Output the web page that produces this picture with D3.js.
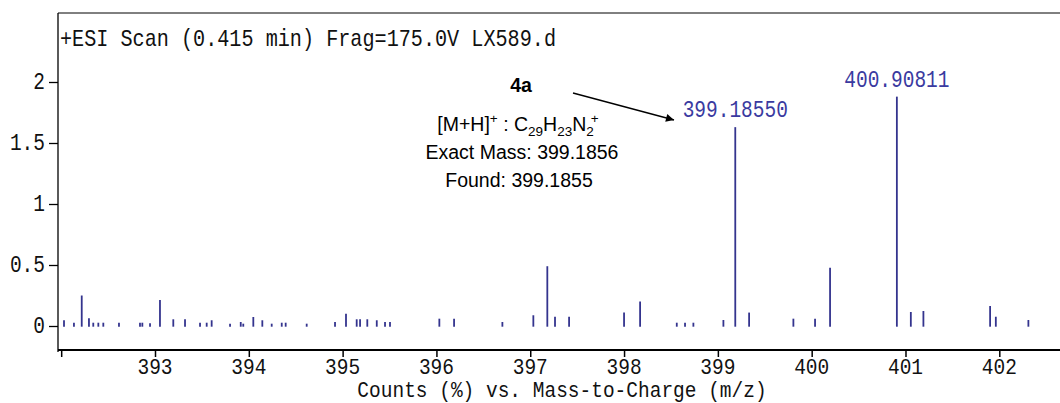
<!DOCTYPE html>
<html><head><meta charset="utf-8">
<script src="https://cdn.jsdelivr.net/npm/d3@7"></script>
<style>
html,body{margin:0;padding:0;background:#fff;}
svg{display:block;}
</style></head>
<body>
<svg id="chart" width="1060" height="403"></svg>
<script>
// ---- data ----
const mz = [392.030,392.136,392.219,392.296,392.342,392.396,392.449,392.616,392.840,392.865,392.947,
  393.053,393.195,393.320,393.480,393.551,393.604,393.800,393.914,393.941,
  394.048,394.144,394.244,394.351,394.393,394.617,394.919,
  395.036,395.150,395.186,395.263,395.364,395.452,395.505,
  396.031,396.188,396.703,
  397.033,397.182,397.264,397.414,
  398.000,398.171,398.562,398.650,398.739,
  399.059,399.1855,399.333,399.805,
  400.036,400.196,400.90811,
  401.057,401.191,401.902,401.963,402.310];
const counts = [0.047,0.027,0.25,0.063,0.027,0.027,0.027,0.027,0.027,0.027,0.022,
  0.213,0.055,0.055,0.027,0.027,0.047,0.019,0.033,0.019,
  0.074,0.047,0.019,0.027,0.027,0.019,0.033,
  0.10,0.055,0.055,0.055,0.047,0.033,0.033,
  0.06,0.06,0.033,
  0.088,0.49,0.076,0.076,
  0.11,0.20,0.027,0.027,0.027,
  0.049,1.63,0.11,0.06,
  0.06,0.478,1.88,
  0.115,0.123,0.164,0.076,0.049];
const labelledPeaks = [{mz:399.1855, count:1.63, text:"399.18550"}, {mz:400.90811, count:1.88, text:"400.90811"}];
const yTicks = [0, 0.5, 1, 1.5, 2];
const xTicks = [392,393,394,395,396,397,398,399,400,401,402];
const xTickLabels = ["","393","394","395","396","397","398","399","400","401","402"];
const titleText = "+ESI Scan (0.415 min) Frag=175.0V LX589.d";
const xAxisTitle = "Counts (%) vs. Mass-to-Charge (m/z)";

// ---- layout ----
const svg = d3.select("#chart");
const L = 58, R = 1060, T = 13, B = 350;
const x = d3.scaleLinear().domain([393, 402]).range([155, 999.3]);
const y = d3.scaleLinear().domain([0, 2]).range([326, 82]);
const mono = "'Liberation Mono','Courier New',monospace";
const sans = "'Liberation Sans',Arial,sans-serif";
const peakColor = "#34348e";
const labelColor = "#3a3aa0";

function monoText(g, tx, ty, str, anchor, size, color, sy) {
  return g.append("text")
    .attr("transform", `translate(${tx},${ty}) scale(1,${sy || 1.2})`)
    .attr("text-anchor", anchor)
    .attr("font-family", mono)
    .attr("font-size", size)
    .attr("fill", color)
    .text(str);
}

// frame
svg.append("line").attr("x1", L).attr("x2", L).attr("y1", T).attr("y2", B + 2)
  .attr("stroke", "#000").attr("stroke-width", 1.3);
svg.append("line").attr("x1", L).attr("x2", R).attr("y1", T).attr("y2", T)
  .attr("stroke", "#000").attr("stroke-width", 1);

// peaks
svg.append("g").selectAll("line").data(mz).join("line")
  .attr("x1", d => x(d)).attr("x2", d => x(d))
  .attr("y1", (d, i) => y(counts[i])).attr("y2", y(0) + 0.7)
  .attr("stroke", peakColor).attr("stroke-width", 1.8);

// x axis
const xAxis = d3.axisBottom(x).tickValues(xTicks).tickSize(7).tickFormat("");
const gx = svg.append("g").attr("transform", `translate(0,${B})`).call(xAxis);
gx.select(".domain").remove();
gx.selectAll(".tick line").attr("stroke", "#000").attr("stroke-width", 1.5);
svg.append("line").attr("x1", L).attr("x2", R).attr("y1", B).attr("y2", B)
  .attr("stroke", "#000").attr("stroke-width", 2.2);
xTicks.forEach((t, i) => {
  if (xTickLabels[i]) monoText(svg, x(t), 374, xTickLabels[i], "middle", 19.5, "#111", 1.15);
});
monoText(svg, 562, 397, xAxisTitle, "middle", 19.5, "#111", 1.1);

// y axis
const yAxis = d3.axisLeft(y).tickValues(yTicks).tickSize(9).tickFormat("");
const gy = svg.append("g").attr("transform", `translate(${L},0)`).call(yAxis);
gy.select(".domain").remove();
gy.selectAll(".tick line").attr("stroke", "#000").attr("stroke-width", 1.3);
yTicks.forEach(t => {
  monoText(svg, 45, y(t) + 6.5, String(t), "end", 19.5, "#111");
});

// title
monoText(svg, 60, 46, titleText, "start", 19.5, "#111")
  .attr("textLength", 496).attr("lengthAdjust", "spacingAndGlyphs");

// peak labels
labelledPeaks.forEach(p => {
  monoText(svg, x(p.mz), y(p.count) - 10, p.text, "middle", 19.5, labelColor);
});

// annotation
const ann = svg.append("g").attr("font-family", sans).attr("fill", "#000");
ann.append("text").attr("x", 521).attr("y", 92).attr("text-anchor", "middle")
  .attr("font-size", 19.5).attr("font-weight", "bold").text("4a");
const f = ann.append("text").attr("x", 518).attr("y", 131).attr("text-anchor", "middle").attr("font-size", 19.5);
f.append("tspan").text("[M+H]");
f.append("tspan").attr("dy", -8).attr("font-size", 13.5).text("+");
f.append("tspan").attr("dy", 8).text(" : C");
f.append("tspan").attr("dy", 5).attr("font-size", 13.5).text("29");
f.append("tspan").attr("dy", -5).text("H");
f.append("tspan").attr("dy", 5).attr("font-size", 13.5).text("23");
f.append("tspan").attr("dy", -5).text("N");
f.append("tspan").attr("dy", 5).attr("font-size", 13.5).text("2");
f.append("tspan").attr("dy", -13).attr("dx", -3).attr("font-size", 13.5).text("+");
ann.append("text").attr("x", 522).attr("y", 159).attr("text-anchor", "middle")
  .attr("font-size", 19.5).text("Exact Mass: 399.1856");
ann.append("text").attr("x", 519).attr("y", 187).attr("text-anchor", "middle")
  .attr("font-size", 19.5).text("Found: 399.1855");

// arrow
svg.append("defs").append("marker").attr("id", "ah")
  .attr("viewBox", "0 0 10 10").attr("refX", 10).attr("refY", 5)
  .attr("markerWidth", 12).attr("markerHeight", 8).attr("markerUnits", "userSpaceOnUse")
  .attr("orient", "auto")
  .append("path").attr("d", "M0,0 L10,5 L0,10 Z").attr("fill", "#000");
svg.append("line").attr("x1", 573).attr("y1", 93).attr("x2", 674).attr("y2", 120)
  .attr("stroke", "#000").attr("stroke-width", 1.3).attr("marker-end", "url(#ah)");
</script>
</body></html>
